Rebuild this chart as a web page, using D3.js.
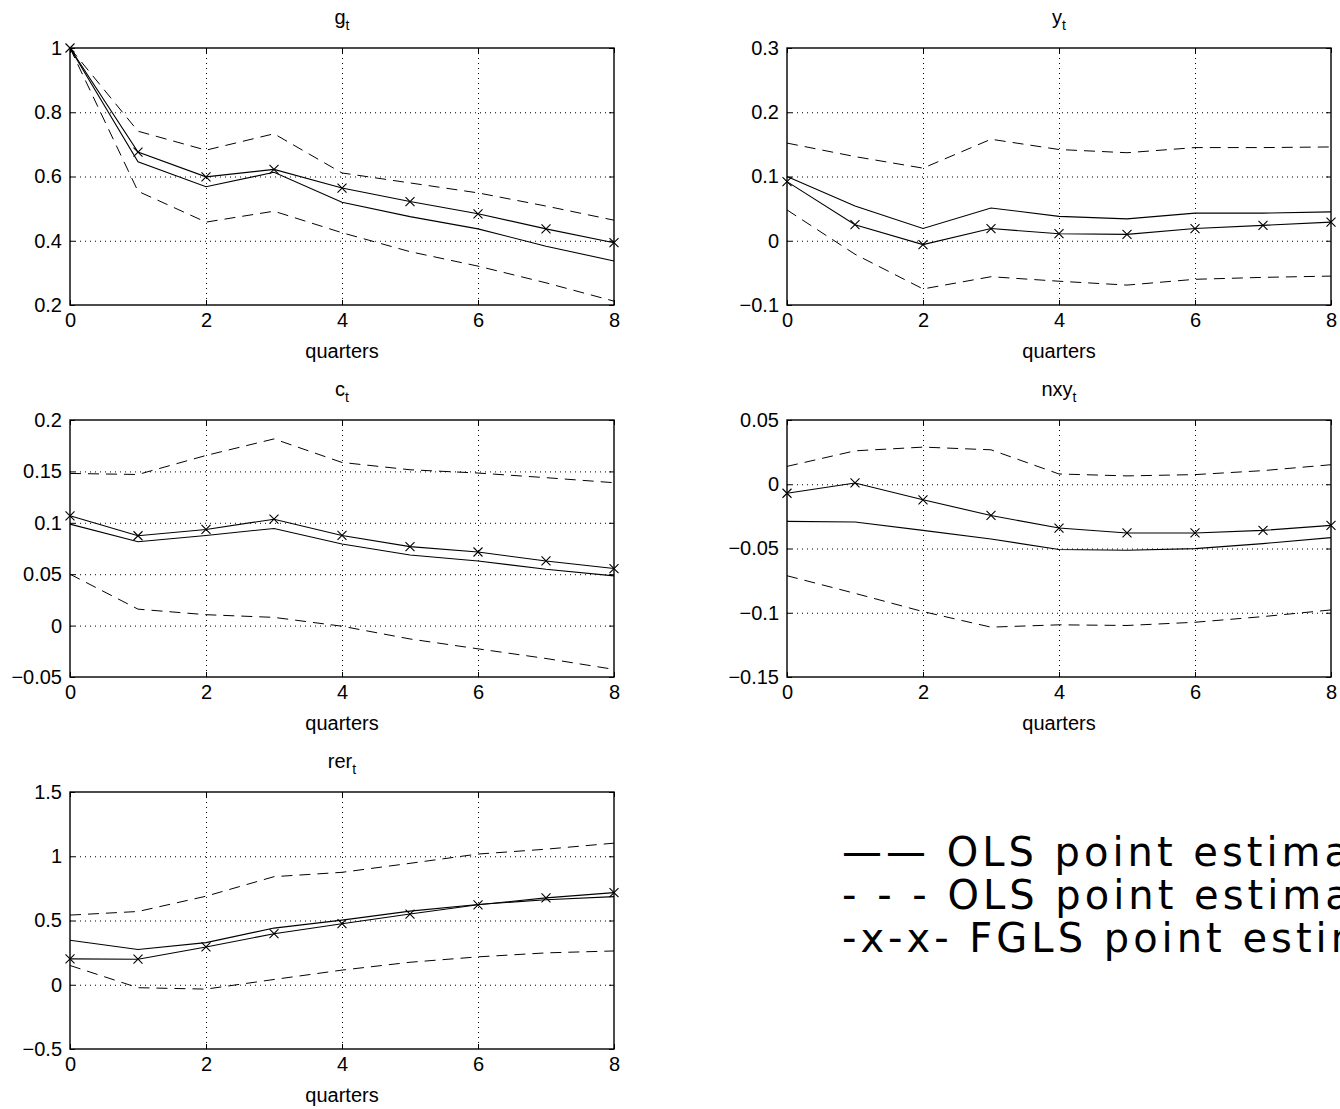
<!DOCTYPE html>
<html>
<head>
<meta charset="utf-8">
<script src="https://cdn.jsdelivr.net/npm/d3@7"></script>
<style>
body { margin: 0; background: #fff; }
svg { display: block; }
text { font-family: "Liberation Sans", Arial, sans-serif; fill: #000; }
</style>
</head>
<body>
<script>
// horizon in quarters
const quarters = [0, 1, 2, 3, 4, 5, 6, 7, 8]
const xTicks = [0, 2, 4, 6, 8]

// g_t
const gOls  = [1.0, 0.646, 0.568, 0.613, 0.520, 0.475, 0.437, 0.383, 0.337]
const gFgls = [1.0, 0.676, 0.599, 0.622, 0.564, 0.522, 0.484, 0.437, 0.394]
const gHi   = [1.0, 0.741, 0.682, 0.733, 0.611, 0.580, 0.549, 0.508, 0.464]
const gLo   = [1.0, 0.554, 0.458, 0.492, 0.425, 0.366, 0.321, 0.269, 0.212]
const gTicks = [0.2, 0.4, 0.6, 0.8, 1]

// y_t
const yOls  = [0.100, 0.054, 0.019, 0.051, 0.038, 0.034, 0.043, 0.043, 0.045]
const yFgls = [0.092, 0.025, -0.006, 0.019, 0.011, 0.010, 0.019, 0.024, 0.029]
const yHi   = [0.152, 0.131, 0.113, 0.158, 0.142, 0.137, 0.145, 0.145, 0.146]
const yLo   = [0.048, -0.021, -0.075, -0.056, -0.063, -0.069, -0.060, -0.057, -0.055]
const yTicks = [-0.1, 0, 0.1, 0.2, 0.3]

// c_t
const cOls  = [0.0987, 0.0816, 0.0877, 0.0945, 0.0794, 0.0687, 0.0629, 0.0548, 0.0484]
const cFgls = [0.1068, 0.0874, 0.0935, 0.1035, 0.0877, 0.0768, 0.0716, 0.0629, 0.0555]
const cHi   = [0.148, 0.147, 0.1655, 0.1816, 0.1587, 0.1516, 0.1484, 0.1439, 0.139]
const cLo   = [0.050, 0.016, 0.0106, 0.008, -0.0006, -0.013, -0.0226, -0.032, -0.0426]
const cTicks = [-0.05, 0, 0.05, 0.1, 0.15, 0.2]

// nxy_t
const nOls  = [-0.0289, -0.0294, -0.0359, -0.0426, -0.0508, -0.0514, -0.0501, -0.0462, -0.0415]
const nFgls = [-0.007, 0.001, -0.0121, -0.0243, -0.0341, -0.0379, -0.0379, -0.0359, -0.032]
const nHi   = [0.0139, 0.026, 0.0289, 0.0268, 0.008, 0.0065, 0.0075, 0.0106, 0.0152]
const nLo   = [-0.0712, -0.0849, -0.0991, -0.1112, -0.1094, -0.1099, -0.1074, -0.103, -0.0978]
const nTicks = [-0.15, -0.1, -0.05, 0, 0.05]

// rer_t
const rOls  = [0.346, 0.274, 0.328, 0.441, 0.503, 0.573, 0.625, 0.661, 0.686]
const rFgls = [0.201, 0.199, 0.294, 0.397, 0.475, 0.550, 0.622, 0.676, 0.717]
const rHi   = [0.542, 0.570, 0.689, 0.841, 0.875, 0.945, 1.017, 1.055, 1.102]
const rLo   = [0.150, -0.023, -0.034, 0.041, 0.114, 0.175, 0.217, 0.248, 0.263]
const rTicks = [-0.5, 0, 0.5, 1, 1.5]

const legendLabels = ["—— OLS point estimates", "- - - OLS point estimates", "-x-x- FGLS point estimates"]

const panels = [
  { name: "g",   ols: gOls, fgls: gFgls, hi: gHi, lo: gLo, ticks: gTicks, col: 0, row: 0 },
  { name: "y",   ols: yOls, fgls: yFgls, hi: yHi, lo: yLo, ticks: yTicks, col: 1, row: 0 },
  { name: "c",   ols: cOls, fgls: cFgls, hi: cHi, lo: cLo, ticks: cTicks, col: 0, row: 1 },
  { name: "nxy", ols: nOls, fgls: nFgls, hi: nHi, lo: nLo, ticks: nTicks, col: 1, row: 1 },
  { name: "rer", ols: rOls, fgls: rFgls, hi: rHi, lo: rLo, ticks: rTicks, col: 0, row: 2 }
]

const w = 1340
const h = 1109
const colX = [70, 787]
const rowY = [48, 420, 792]
const pw = 544
const ph = 257

const fmt = (v) => String(+v.toFixed(4)).replace("-", "\u2212")

const svg = d3.select("body")
              .append("svg")
              .attr("width", w)
              .attr("height", h)

panels.forEach((p) => {
    const g = svg.append("g")
                 .attr("transform", "translate(" + colX[p.col] + "," + rowY[p.row] + ")")
    const xScale = d3.scaleLinear().domain([0, 8]).range([0, pw])
    const yScale = d3.scaleLinear()
                     .domain([p.ticks[0], p.ticks[p.ticks.length - 1]])
                     .range([ph, 0])

    // dotted grid
    const gridX = g.append("g")
                   .call(d3.axisBottom(xScale)
                           .tickValues(xTicks.slice(1, -1))
                           .tickSize(ph)
                           .tickFormat(""))
    const gridY = g.append("g")
                   .call(d3.axisLeft(yScale)
                           .tickValues(p.ticks.slice(1, -1))
                           .tickSize(-pw)
                           .tickFormat(""))
    ;[gridX, gridY].forEach((gr) => {
        gr.select(".domain").remove()
        gr.selectAll("line")
          .attr("stroke", "#000")
          .attr("stroke-width", 1)
          .attr("stroke-dasharray", "1,4")
    })

    // inward ticks on all sides
    const axes = [
        g.append("g").attr("transform", "translate(0," + ph + ")")
         .call(d3.axisBottom(xScale).tickValues(xTicks).tickSize(-5).tickPadding(8).tickFormat(d3.format("d"))),
        g.append("g")
         .call(d3.axisTop(xScale).tickValues(xTicks).tickSize(-5).tickFormat("")),
        g.append("g")
         .call(d3.axisLeft(yScale).tickValues(p.ticks).tickSize(-5).tickPadding(8).tickFormat(fmt)),
        g.append("g").attr("transform", "translate(" + pw + ",0)")
         .call(d3.axisRight(yScale).tickValues(p.ticks).tickSize(-5).tickFormat(""))
    ]
    axes.forEach((a) => {
        a.select(".domain").remove()
        a.selectAll("line").attr("stroke", "#000")
        a.selectAll("text").attr("font-size", 20).attr("font-family", null)
    })

    g.append("rect")
     .attr("width", pw)
     .attr("height", ph)
     .attr("fill", "none")
     .attr("stroke", "#000")
     .attr("stroke-width", 1.4)

    const line = (vals) => d3.line()
                             .x((d, i) => xScale(quarters[i]))
                             .y((d) => yScale(d))(vals)

    g.append("path").attr("d", line(p.hi))
     .attr("fill", "none").attr("stroke", "#000").attr("stroke-width", 1)
     .attr("stroke-dasharray", "11,7")
    g.append("path").attr("d", line(p.lo))
     .attr("fill", "none").attr("stroke", "#000").attr("stroke-width", 1)
     .attr("stroke-dasharray", "11,7")
    g.append("path").attr("d", line(p.ols))
     .attr("fill", "none").attr("stroke", "#000").attr("stroke-width", 1.1)
    g.append("path").attr("d", line(p.fgls))
     .attr("fill", "none").attr("stroke", "#000").attr("stroke-width", 1.1)

    g.selectAll(".mark")
     .data(p.fgls)
     .enter()
     .append("path")
     .attr("class", "mark")
     .attr("transform", (d, i) => "translate(" + xScale(quarters[i]) + "," + yScale(d) + ")")
     .attr("d", "M-4.5,-4.5L4.5,4.5M-4.5,4.5L4.5,-4.5")
     .attr("stroke", "#000")
     .attr("stroke-width", 1.1)

    // title with subscript t
    const title = g.append("text")
                   .attr("x", pw / 2)
                   .attr("y", -24)
                   .attr("text-anchor", "middle")
                   .attr("font-size", 20)
    title.append("tspan").text(p.name)
    title.append("tspan").attr("font-size", 14).attr("dy", 6).text("t")

    g.append("text")
     .attr("x", pw / 2)
     .attr("y", ph + 53)
     .attr("text-anchor", "middle")
     .attr("font-size", 20)
     .text("quarters")
})

// legend (runs past the right edge as in the original)
svg.selectAll(".leg")
   .data(legendLabels)
   .enter()
   .append("text")
   .attr("class", "leg")
   .attr("x", 842)
   .attr("y", (d, i) => 866 + i * 43)
   .attr("font-size", 40)
   .attr("letter-spacing", 4)
   .style("font-family", "'DejaVu Sans', sans-serif")
   .style("white-space", "pre")
   .text((d) => d)
</script>
</body>
</html>
